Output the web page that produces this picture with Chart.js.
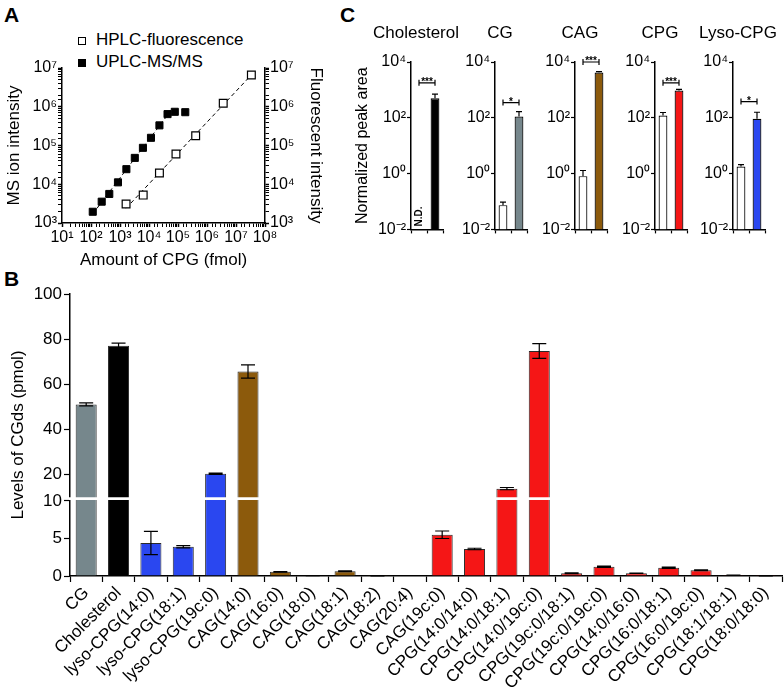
<!DOCTYPE html>
<html>
<head>
<meta charset="utf-8">
<script src="https://cdn.jsdelivr.net/npm/chart.js@4.4.1/dist/chart.umd.min.js"></script>
<style>
  body { margin: 0; background: #fff; }
  #page { position: relative; width: 784px; height: 697px; overflow: hidden; font-family: "Liberation Sans", Arial, sans-serif; color: #000; }
  canvas { position: absolute; }
  .letter { position: absolute; font-weight: bold; font-size: 21px; }
  .ctitle { position: absolute; font-size: 17px; transform: translateX(-50%); white-space: nowrap; }
  .legend { position: absolute; font-size: 17px; white-space: nowrap; }
  .mark { position: absolute; width: 6px; height: 6px; border: 1.2px solid #000; }
</style>
</head>
<body>
<div id="page">
  <div class="letter" style="left:4px;top:3px">A</div>
  <div class="letter" style="left:340px;top:3px">C</div>
  <div class="letter" style="left:4px;top:267px">B</div>

  <div class="mark" style="left:78px;top:37px;background:#fff"></div>
  <div class="legend" style="left:96px;top:30px">HPLC-fluorescence</div>
  <div class="mark" style="left:78px;top:59px;background:#000"></div>
  <div class="legend" style="left:96px;top:52px">UPLC-MS/MS</div>

  <canvas id="chartA" width="330" height="275" style="left:0;top:0"></canvas>
  <canvas id="chartB" width="784" height="435" style="left:0;top:262px"></canvas>
  <div id="panelC"></div>
</div>

<script>
// ===== PANEL A: calibration =====
const uplcAmount = [115, 234, 427, 851, 1660, 3240, 6170, 11700, 22900, 43600, 77600, 178000];
const uplcIntensity = [1950, 3550, 5620, 11200, 24500, 47900, 87100, 158000, 331000, 646000, 741000, 724000];
const uplcFitCount = 10; // saturated points left out of the fit
const hplcAmount = [1620, 6310, 22900, 85100, 407000, 3630000, 33900000];
const hplcIntensity = [3090, 5250, 19500, 60300, 178000, 1230000, 6610000];

// ===== PANEL B: levels =====
const lipidNames = [
  "CG", "Cholesterol", "lyso-CPG(14:0)", "lyso-CPG(18:1)", "lyso-CPG(19c:0)",
  "CAG(14:0)", "CAG(16:0)", "CAG(18:0)", "CAG(18:1)", "CAG(18:2)", "CAG(20:4)", "CAG(19c:0)",
  "CPG(14:0/14:0)", "CPG(14:0/18:1)", "CPG(14:0/19c:0)", "CPG(19c:0/18:1)", "CPG(19c:0/19c:0)",
  "CPG(14:0/16:0)", "CPG(16:0/18:1)", "CPG(16:0/19c:0)", "CPG(18:1/18:1)", "CPG(18:0/18:0)"
];
const lipidGroup = [
  "CG", "Cholesterol", "lyso", "lyso", "lyso",
  "CAG", "CAG", "CAG", "CAG", "CAG", "CAG", "CPG",
  "CPG", "CPG", "CPG", "CPG", "CPG", "CPG", "CPG", "CPG", "CPG", "CPG"
];
const lipidLevels = [51, 77, 4.4, 3.9, 20.2, 65.6, 0.55, 0.05, 0.63, 0.03, 0, 5.5, 3.6, 13.6, 74.7, 0.36, 1.24, 0.36, 1.1, 0.76, 0.1, 0.03];
const lipidErrors = [0.7, 1.2, 1.55, 0.15, 0.3, 2.9, 0.05, 0.01, 0.05, 0.01, 0, 0.5, 0.1, 0.5, 3.3, 0.05, 0.08, 0.03, 0.08, 0.06, 0.02, 0.01];
const levelTicks = [0, 5, 10, 20, 40, 60, 80, 100];
const brokenAt = 10;

// ===== PANEL C: normalized peak area =====
const groupNames = ["Cholesterol", "CG", "CAG", "CPG", "Lyso-CPG"];
const controlPeak = [null, 0.074, 0.81, 120, 1.8];
const controlSem = [null, 0.021, 0.48, 35, 0.3];
const treatedPeak = [500, 112, 4200, 950, 92];
const treatedSem = [210, 54, 300, 100, 66];
const sigMarks = ["***", "*", "***", "***", "*"];
const sigLevel = [1800, 350, 10000, 1800, 380];
const peakTicks = [0.01, 1, 100, 10000];

const FONT = "'Liberation Sans', Arial, sans-serif";
Chart.defaults.font.family = FONT;
Chart.defaults.color = "#000";

const classColors = {
  CG: "#76878c",
  Cholesterol: "#000000",
  lyso: "#2a47f0",
  CAG: "#8c5a0c",
  CPG: "#f51616",
};
const groupColors = [classColors.Cholesterol, classColors.CG, classColors.CAG, classColors.CPG, classColors.lyso];

const SUP = { "-": "\u207B", 0: "\u2070", 1: "\u00B9", 2: "\u00B2", 3: "\u00B3", 4: "\u2074", 5: "\u2075", 6: "\u2076", 7: "\u2077", 8: "\u2078", 9: "\u2079" };
function isPow10(v) {
  const e = Math.log10(v);
  return Math.abs(e - Math.round(e)) < 1e-6;
}
function pow10Label(v) {
  if (!isPow10(v)) return "";
  return "10" + String(Math.round(Math.log10(v))).split("").map((c) => SUP[c]).join("");
}

// least squares in log-log space, returns the two end points of the line
function logFit(xs, ys) {
  const lx = xs.map(Math.log10), ly = ys.map(Math.log10);
  const n = lx.length;
  const mx = lx.reduce((a, b) => a + b, 0) / n;
  const my = ly.reduce((a, b) => a + b, 0) / n;
  let sxy = 0, sxx = 0;
  for (let i = 0; i < n; i++) {
    sxy += (lx[i] - mx) * (ly[i] - my);
    sxx += (lx[i] - mx) ** 2;
  }
  const b = sxy / sxx, a = my - b * mx;
  return [lx[0], lx[n - 1]].map((v) => ({ x: 10 ** v, y: 10 ** (a + b * v) }));
}

// ===== error bars =====
const errorBarPlugin = {
  id: "errorBars",
  afterDatasetsDraw(chart, args, opts) {
    const ctx = chart.ctx;
    chart.data.datasets.forEach((ds, di) => {
      if (!ds.errors) return;
      const meta = chart.getDatasetMeta(di);
      const yScale = chart.scales[meta.yAxisID];
      meta.data.forEach((bar, i) => {
        const v = ds.data[i], e = ds.errors[i];
        if (v == null || !e) return;
        const top = yScale.getPixelForValue(v + e);
        const bottom = opts.upOnly ? bar.y : yScale.getPixelForValue(Math.max(v - e, 0));
        const half = opts.cap / 2;
        ctx.save();
        ctx.strokeStyle = "#000";
        ctx.lineWidth = opts.width || 1.2;
        ctx.beginPath();
        ctx.moveTo(bar.x, top);
        ctx.lineTo(bar.x, bottom);
        ctx.moveTo(bar.x - half, top);
        ctx.lineTo(bar.x + half, top);
        if (!opts.upOnly) {
          ctx.moveTo(bar.x - half, bottom);
          ctx.lineTo(bar.x + half, bottom);
        }
        ctx.stroke();
        ctx.restore();
      });
    });
  },
};

// ===== PANEL A =====
const axisLine = { color: "#000", width: 1.5 };
function logAxis(extra) {
  return Object.assign({
    type: "logarithmic",
    border: axisLine,
    grid: {
      drawOnChartArea: false,
      tickLength: 4,
      tickColor: "#000",
      tickWidth: (c) => (c.tick && isPow10(c.tick.value) ? 1.5 : 1),
    },
    ticks: { autoSkip: false, maxRotation: 0, padding: 1, font: { size: 16 }, callback: (v) => pow10Label(v) },
  }, extra);
}

new Chart(document.getElementById("chartA"), {
  type: "scatter",
  data: {
    datasets: [
      {
        data: uplcAmount.map((x, i) => ({ x, y: uplcIntensity[i] })),
        yAxisID: "y",
        pointStyle: "rect",
        pointRadius: 5,
        pointBackgroundColor: "#000",
        pointBorderColor: "#000",
        order: 0,
      },
      {
        data: hplcAmount.map((x, i) => ({ x, y: hplcIntensity[i] })),
        yAxisID: "y2",
        pointStyle: "rect",
        pointRadius: 5.5,
        pointBackgroundColor: "#fff",
        pointBorderColor: "#000",
        pointBorderWidth: 1.2,
        order: 0,
      },
      {
        data: logFit(uplcAmount.slice(0, uplcFitCount), uplcIntensity.slice(0, uplcFitCount)),
        yAxisID: "y",
        showLine: true,
        pointRadius: 0,
        borderColor: "#000",
        borderWidth: 1,
        borderDash: [4, 3],
        order: 1,
      },
      {
        data: logFit(hplcAmount, hplcIntensity),
        yAxisID: "y2",
        showLine: true,
        pointRadius: 0,
        borderColor: "#000",
        borderWidth: 1,
        borderDash: [4, 3],
        order: 1,
      },
    ],
  },
  options: {
    responsive: false,
    animation: false,
    layout: { padding: { top: 68 } },
    plugins: { legend: { display: false }, tooltip: { enabled: false } },
    scales: {
      x: logAxis({
        min: 10, max: 1e8, position: "bottom",
        title: { display: true, text: "Amount of CPG (fmol)", font: { size: 17 }, color: "#000" },
        afterFit: (s) => { s.height = 52; },
      }),
      y: logAxis({
        min: 1e3, max: 1e7, position: "left",
        title: { display: true, text: "MS ion intensity", font: { size: 17 }, color: "#000" },
        afterFit: (s) => { s.width = 62; },
      }),
      y2: logAxis({
        min: 1e3, max: 1e7, position: "right",
        title: { display: true, text: "Fluorescent intensity", font: { size: 17 }, color: "#000" },
        afterFit: (s) => { s.width = 65; },
      }),
    },
  },
});

// ===== PANEL B: broken y axis =====
const LinearScale = Chart.LinearScale || Chart.registry.getScale("linear");
const LOW_FRAC = 0.266;  // share of height for 0..10
const HIGH_START = 0.281; // where 10..max starts
class BrokenScale extends LinearScale {
  static id = "broken";
  getPixelForValue(value) {
    const h = this.bottom - this.top;
    let f;
    if (value <= brokenAt) f = (value / brokenAt) * LOW_FRAC;
    else f = HIGH_START + ((value - brokenAt) / (this.max - brokenAt)) * (1 - HIGH_START);
    return this.bottom - f * h;
  }
  getValueForPixel(pixel) {
    const f = (this.bottom - pixel) / (this.bottom - this.top);
    if (f <= LOW_FRAC) return (f / LOW_FRAC) * brokenAt;
    return brokenAt + ((f - HIGH_START) / (1 - HIGH_START)) * (this.max - brokenAt);
  }
}
Chart.register(BrokenScale);

const axisBreakPlugin = {
  id: "axisBreak",
  afterDraw(chart) {
    const y = chart.scales.y;
    const low = y.getPixelForValue(brokenAt);
    const high = y.getPixelForValue(brokenAt + 1e-6);
    const ctx = chart.ctx;
    ctx.save();
    ctx.fillStyle = "#fff";
    ctx.fillRect(chart.chartArea.left - 1, high + 0.5, chart.chartArea.right - chart.chartArea.left + 1, low - high - 1.5);
    ctx.restore();
  },
};

new Chart(document.getElementById("chartB"), {
  type: "bar",
  data: {
    labels: lipidNames,
    datasets: [
      {
        data: lipidLevels,
        errors: lipidErrors,
        backgroundColor: lipidGroup.map((g) => classColors[g]),
        borderColor: "#2a2a2a",
        borderWidth: 1,
        barPercentage: 0.65,
        categoryPercentage: 1,
      },
    ],
  },
  options: {
    responsive: false,
    animation: false,
    layout: { padding: { top: 32, right: 2 } },
    plugins: {
      legend: { display: false },
      tooltip: { enabled: false },
      errorBars: { cap: 14, width: 1.2 },
    },
    scales: {
      x: {
        border: axisLine,
        grid: { drawOnChartArea: false, tickLength: 6, tickColor: "#000", tickWidth: 1.2 },
        ticks: { font: { size: 17 }, minRotation: 45, maxRotation: 45, autoSkip: false, padding: 1 },
        afterFit: (s) => { s.height = 121; s.paddingLeft = 0; s.paddingRight = 0; },
      },
      y: {
        type: "broken",
        min: 0,
        max: 100,
        border: axisLine,
        grid: { drawOnChartArea: false, tickLength: 6, tickColor: "#000", tickWidth: 1.2 },
        ticks: { font: { size: 17 }, padding: 2, callback: (v) => String(v) },
        title: { display: true, text: "Levels of CGds (pmol)", font: { size: 17 }, color: "#000", padding: { top: 8, bottom: 0 } },
        afterBuildTicks: (s) => { s.ticks = levelTicks.map((value) => ({ value })); },
        afterFit: (s) => { s.width = 70; },
      },
    },
  },
  plugins: [errorBarPlugin, axisBreakPlugin],
});

// ===== PANEL C: five small log bar charts =====
const sigPlugin = {
  id: "sig",
  afterDraw(chart, args, o) {
    const ctx = chart.ctx, x = chart.scales.x, y = chart.scales.y;
    const x0 = x.getPixelForValue(0), x1 = x.getPixelForValue(1);
    const yy = y.getPixelForValue(o.level);
    ctx.save();
    ctx.strokeStyle = "#000";
    ctx.lineWidth = 1.2;
    ctx.beginPath();
    ctx.moveTo(x0, yy); ctx.lineTo(x1, yy);
    ctx.moveTo(x0, yy - 3); ctx.lineTo(x0, yy + 3);
    ctx.moveTo(x1, yy - 3); ctx.lineTo(x1, yy + 3);
    ctx.stroke();
    ctx.fillStyle = "#000";
    ctx.font = "bold 10px " + FONT;
    ctx.textAlign = "center";
    ctx.textBaseline = "alphabetic";
    ctx.fillText(o.mark, (x0 + x1) / 2, yy + 2);
    if (o.notDetected) {
      ctx.translate(x0 + 0.5, y.bottom - 3);
      ctx.rotate(-Math.PI / 2);
      ctx.font = "bold 10px " + FONT;
      ctx.textAlign = "left";
      ctx.textBaseline = "middle";
      ctx.fillText("N.D.", 0, 0);
    }
    ctx.restore();
  },
};

const cAxisX = [411, 495, 575, 655, 733];
const panelC = document.getElementById("panelC");
groupNames.forEach((name, i) => {
  const yWidth = i === 0 ? 62 : 44;
  const left = cAxisX[i] - yWidth;
  const canvas = document.createElement("canvas");
  canvas.width = yWidth + 32 + 4;
  canvas.height = 200;
  canvas.style.left = left + "px";
  canvas.style.top = "40px";
  panelC.appendChild(canvas);

  const title = document.createElement("div");
  title.className = "ctitle";
  title.style.left = cAxisX[i] + 5 + "px";
  title.style.top = "23px";
  title.textContent = name;
  panelC.appendChild(title);

  new Chart(canvas, {
    type: "bar",
    data: {
      labels: ["", ""],
      datasets: [
        {
          data: [controlPeak[i], treatedPeak[i]],
          errors: [controlSem[i], treatedSem[i]],
          backgroundColor: ["#fff", groupColors[i]],
          borderColor: "#000",
          borderWidth: 1.2,
          barPercentage: 0.55,
          categoryPercentage: 1,
        },
      ],
    },
    options: {
      responsive: false,
      animation: false,
      layout: { padding: { top: 22, right: 4 } },
      plugins: {
        legend: { display: false },
        tooltip: { enabled: false },
        errorBars: { upOnly: true, cap: 6, width: 1.2 },
        sig: { level: sigLevel[i], mark: sigMarks[i], notDetected: controlPeak[i] == null },
      },
      scales: {
        x: {
          border: axisLine,
          grid: { drawOnChartArea: false, tickLength: 4, tickColor: "#000", tickWidth: 1.2 },
          ticks: { display: false },
          afterFit: (s) => { s.height = 9; },
        },
        y: {
          type: "logarithmic",
          min: 0.01,
          max: 10000,
          border: axisLine,
          grid: { drawOnChartArea: false, tickLength: 4, tickColor: "#000", tickWidth: 1.2 },
          ticks: { font: { size: 16 }, padding: 1, callback: (v) => pow10Label(v) },
          title: { display: i === 0, text: "Normalized peak area", font: { size: 16 }, color: "#000" },
          afterBuildTicks: (s) => { s.ticks = peakTicks.map((value) => ({ value })); },
          afterFit: (s) => { s.width = yWidth; },
        },
      },
    },
    plugins: [errorBarPlugin, sigPlugin],
  });
});
</script>
</body>
</html>
